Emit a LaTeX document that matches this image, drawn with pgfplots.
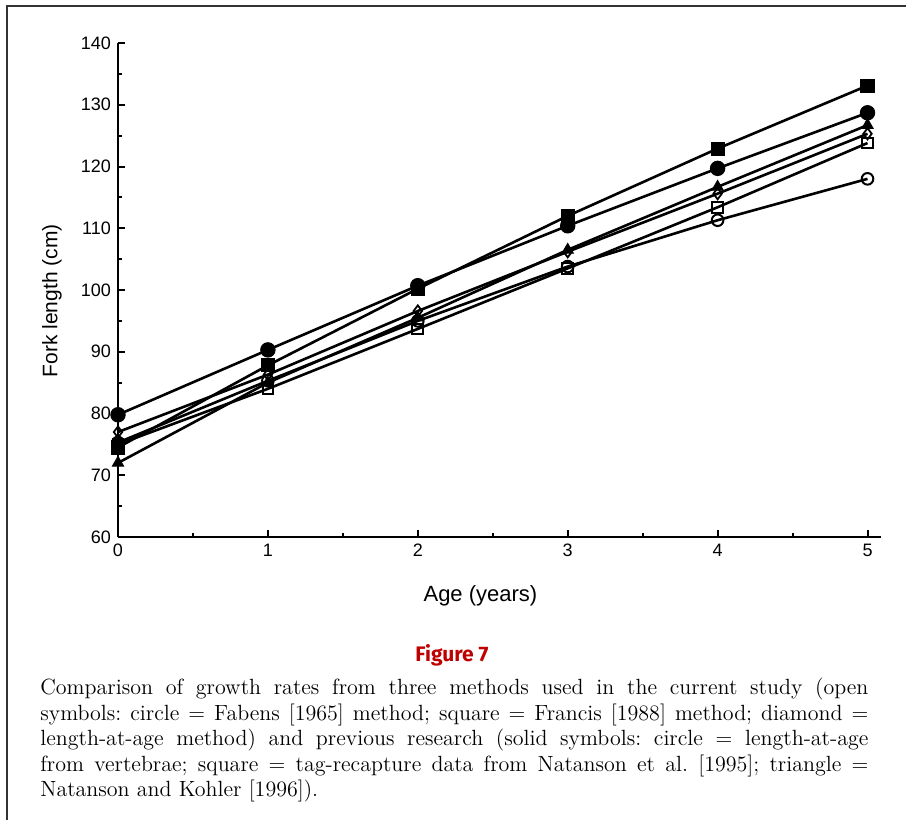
\documentclass[border=0pt]{standalone}
\usepackage{fontspec}
\usepackage{pgfplots}
\pgfplotsset{compat=1.18}
\newfontfamily\axfont{Liberation Sans}
\newfontfamily\figfont{Fira Sans}
\begin{document}
\frenchspacing
\begin{tikzpicture}
\useasboundingbox (0,0) rectangle (453pt,-410pt);
% frame
\draw[line width=1pt, black!80] (3.5pt,-410pt) -- (3.5pt,-3pt) -- (453pt,-3pt);
\begin{axis}[
  at={(59pt,-268.5pt)}, anchor=south west,
  scale only axis, width=381.5pt, height=247pt,
  xmin=0, xmax=5.09, ymin=60, ymax=140,
  axis lines=left, axis line style={line width=1.2pt, -},
  xtick={0,1,2,3,4,5}, ytick={60,70,...,140},
  minor xtick={0.5,1.5,2.5,3.5,4.5}, minor ytick={65,75,...,135},
  tick align=inside, major tick length=3.5pt, minor tick length=2pt,
  every tick/.style={line width=1pt, black},
  ticklabel style={font=\axfont\fontsize{9}{10}\selectfont},
  /pgf/number format/assume math mode=true,
  xlabel={Age (years)}, ylabel={Fork length (cm)},
  every axis x label/.style={at={(axis description cs:0.475,0)}, yshift=-29.5pt, anchor=center, font=\axfont\fontsize{11}{12}\selectfont},
  every axis y label/.style={at={(axis description cs:-0.0865,0.478)}, rotate=90, anchor=center, font=\axfont\fontsize{10.5}{12}\selectfont},
  clip=false,
  every axis plot/.append style={line width=1.3pt, black},
]
% open circle: Fabens
\addplot[mark=o, mark size=2.9pt, mark options={fill=white, line width=1pt}] coordinates {(0,75.3)(1,85.3)(2,95.0)(3,103.8)(4,111.3)(5,118.0)};
% open square: Francis
\addplot[mark=square, mark size=2.7pt, mark options={fill=white, line width=1pt}] coordinates {(0,75.0)(1,84.0)(2,93.7)(3,103.5)(4,113.4)(5,123.8)};
% open diamond: length-at-age
\addplot[mark=diamond, mark size=2.8pt, mark options={fill=white, line width=0.9pt}] coordinates {(0,77.0)(1,86.3)(2,96.6)(3,106.2)(4,115.6)(5,125.3)};
% filled triangle: Natanson and Kohler
\addplot[mark=triangle*, mark size=3.2pt, mark options={fill=black, line width=0.5pt}] coordinates {(0,72.0)(1,85.0)(2,95.5)(3,106.5)(4,116.7)(5,126.7)};
% filled circle: vertebrae
\addplot[mark=*, mark size=3.6pt, mark options={fill=black, line width=0.5pt}] coordinates {(0,79.8)(1,90.3)(2,100.7)(3,110.4)(4,119.7)(5,128.7)};
% filled square: tag-recapture
\addplot[mark=square*, mark size=3.3pt, mark options={fill=black, line width=0.5pt}] coordinates {(0,74.5)(1,87.8)(2,100.2)(3,112.0)(4,122.9)(5,133.1)};
\end{axis}
\node[font=\figfont\bfseries\fontsize{10.5}{12}\selectfont, text=red!75!black, anchor=center] at (226pt,-327.5pt) {Figure 7};
\node[anchor=north west, inner sep=0pt, text width=414pt, align=justify, font=\fontsize{11}{12.75}\selectfont] at (20pt,-339pt) {%
Comparison of growth rates from three methods used in the current study (open\linebreak
symbols: circle = Fabens [1965] method; square = Francis [1988] method; diamond =\linebreak
length-at-age method) and previous research (solid symbols: circle = length-at-age\linebreak
from vertebrae; square = tag-recapture data from Natanson et al. [1995]; triangle =\linebreak
Natanson and Kohler [1996]).};
\end{tikzpicture}
\end{document}
